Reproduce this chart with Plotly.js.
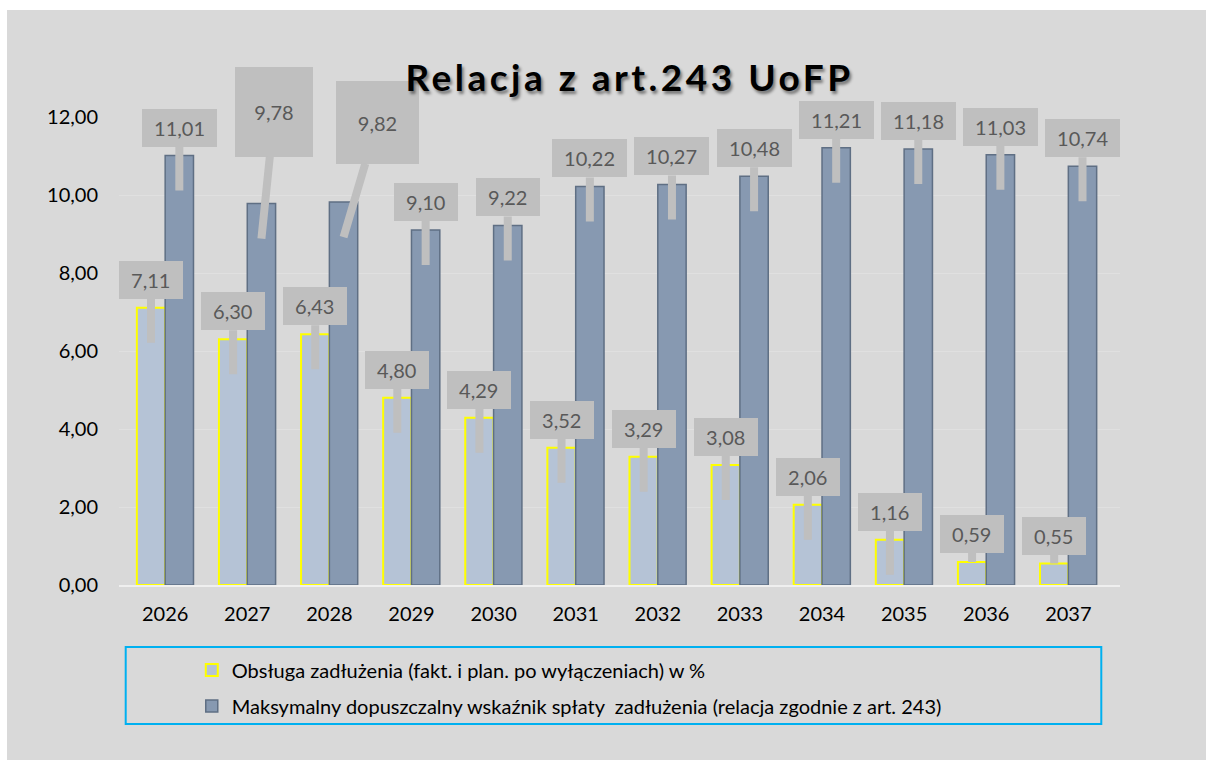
<!DOCTYPE html>
<html>
<head>
<meta charset="utf-8">
<script src="https://cdn.plot.ly/plotly-3.0.1.min.js"></script>
<style>
html,body{margin:0;padding:0;background:#d9d9d9;overflow:hidden;width:1206px;height:760px;}
#chart{position:absolute;left:7px;top:10px;width:1199px;height:750px;}
#topstrip{position:absolute;left:0;top:0;width:1206px;height:10px;background:#ffffff;}
#leftstrip{position:absolute;left:0;top:0;width:7px;height:760px;background:#ffffff;}
</style>
</head>
<body>
<div id="chart"></div>
<div id="topstrip"></div>
<div id="leftstrip"></div>
<script>
// ---- data ----
const years = ['2026','2027','2028','2029','2030','2031','2032','2033','2034','2035','2036','2037'];
const obsluga = [7.11, 6.30, 6.43, 4.80, 4.29, 3.52, 3.29, 3.08, 2.06, 1.16, 0.59, 0.55];
const maksymalny = [11.01, 9.78, 9.82, 9.10, 9.22, 10.22, 10.27, 10.48, 11.21, 11.18, 11.03, 10.74];
const seriesNames = [
  'Obsługa zadłużenia (fakt. i plan. po wyłączeniach) w %',
  'Maksymalny dopuszczalny wskaźnik spłaty\u00a0 zadłużenia (relacja zgodnie z art. 243)'
];
const yTicks = [0, 2, 4, 6, 8, 10, 12];

// ---- layout constants ----
const FONT = 'Lato, "Open Sans", sans-serif';
const M = {l:112, r:86, t:107, b:175};
const H = 750, W = 1199;
const plotH = H - M.t - M.b;
const yMax = 12;
const pxPerUnit = plotH / yMax;
const bargap = 0.31;
const barW = (1 - bargap) / 2;

function fmt(v){ return v.toFixed(2).replace('.', ','); }

const traces = [
  {type:'bar', name:seriesNames[0], x:years, y:obsluga, legendgroup:'a',
   marker:{color:'#b5c3d6', line:{color:'#ffff00', width:2}}, hoverinfo:'skip'},
  {type:'bar', name:seriesNames[1], x:years, y:maksymalny, legendgroup:'b',
   marker:{color:'#8799b1', line:{color:'#5f6f84', width:1.5}}, hoverinfo:'skip'}
];

// special callout sizes (as in the reference)
const special = {
  '1_1': {width:64, height:76, ax:13, ay:-127},
  '1_2': {width:69, height:69, ax:34, ay:-115}
};

const annotations = [];
[obsluga, maksymalny].forEach((arr, s) => {
  arr.forEach((v, i) => {
    const barPx = v * pxPerUnit;
    const d = barPx > 30 ? 35 : 0;
    const a = {
      x: i + (s === 0 ? -barW/2 : barW/2), y: v, xref:'x', yref:'y',
      text: '\u00a0' + fmt(v) + '\u00a0',
      font:{family:FONT, size:20, color:'#595959'},
      bgcolor:'#bfbfbf', borderpad:7, borderwidth:0,
      showarrow:true, arrowhead:0, arrowwidth:8, arrowcolor:'#bfbfbf', standoff:0,
      ax:0, ay:-(d + 28), yshift:-d
    };
    const sp = special[s + '_' + i];
    if (sp) { a.width = sp.width; a.height = sp.height; a.ax = sp.ax; a.ay = sp.ay; }
    annotations.push(a);
  });
});

const layout = {
  width: W, height: H,
  margin: M,
  paper_bgcolor:'#d9d9d9', plot_bgcolor:'#d9d9d9',
  separators: ', ',
  font:{family:FONT, size:20, color:'#000000'},
  title:{
    text:'Relacja z art.243 UoFP',
    font:{family:FONT, size:37, color:'#000000', weight:700, shadow:'2px 3px 3px rgba(0,0,0,0.45)'},
    x:0.51, xref:'paper', xanchor:'center',
    y:1 - 68/H, yref:'container', yanchor:'middle'
  },
  barmode:'group', bargap:bargap, bargroupgap:0,
  xaxis:{
    type:'category', showgrid:false, zeroline:false,
    showline:true, linecolor:'#efefef', linewidth:2,
    ticks:'', ticklabelstandoff:10,
    tickfont:{family:FONT, size:20, color:'#000000'}
  },
  yaxis:{
    range:[0, yMax], tickvals:yTicks, tickformat:'.2f',
    showgrid:true, gridcolor:'#e0e0e0', gridwidth:1,
    zeroline:false, showline:false,
    ticks:'', ticklabelstandoff:20,
    tickfont:{family:FONT, size:20, color:'#000000'}
  },
  showlegend:true,
  legend:{
    orientation:'v', traceorder:'grouped', tracegroupgap:7,
    x:0.0727, xanchor:'left', y:-0.14, yanchor:'top',
    bgcolor:'rgba(0,0,0,0)', borderwidth:0,
    font:{family:FONT, size:20, color:'#000000'}
  },
  shapes:[
    {type:'rect', xref:'paper', yref:'paper', x0:0.0067, x1:0.9813, y0:-0.297, y1:-0.1325,
     line:{color:'#00b0f0', width:2}, fillcolor:'rgba(0,0,0,0)'}
  ],
  annotations: annotations
};

Plotly.newPlot('chart', traces, layout, {displayModeBar:false, staticPlot:true}).then(() => {
  document.querySelectorAll('.g-gtitle').forEach(g => {
    g.parentNode.appendChild(g);
  });
  document.querySelectorAll('.gtitle').forEach(e => { e.style.letterSpacing = '3.5px'; });
});
</script>
</body>
</html>
